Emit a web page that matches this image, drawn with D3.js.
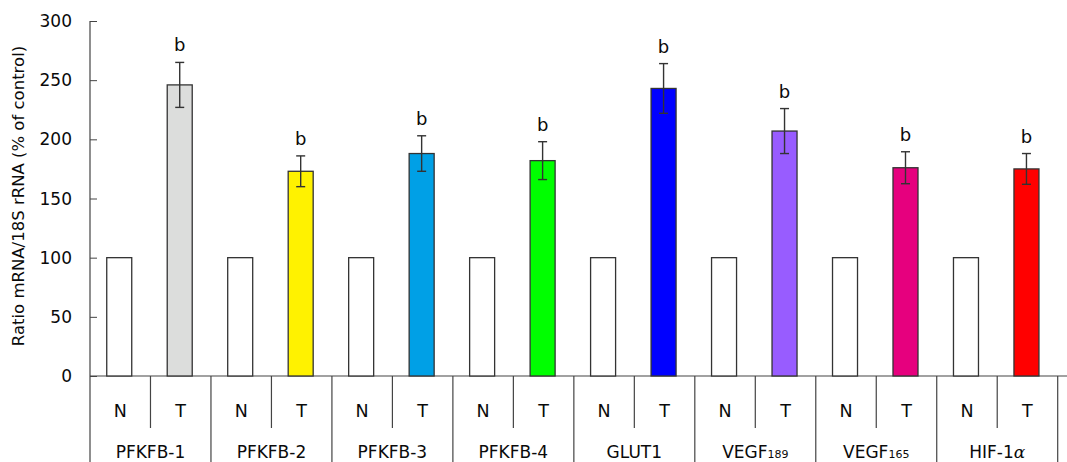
<!DOCTYPE html>
<html>
<head>
<meta charset="utf-8">
<script src="https://cdn.jsdelivr.net/npm/d3@7"></script>
<style>
  html, body { margin: 0; padding: 0; background: #fff; }
  svg { display: block; }
  text { font-family: "DejaVu Sans", sans-serif; fill: #0a0a0a; }
</style>
</head>
<body>
<svg id="chart" width="1067" height="462"></svg>
<script>
// ---- data ----
const categories = ["PFKFB-1", "PFKFB-2", "PFKFB-3", "PFKFB-4", "GLUT1", "VEGF189", "VEGF165", "HIF-1α"];
const groups = ["N", "T"];
const normalValues = [100, 100, 100, 100, 100, 100, 100, 100];
const tumorValues = [246, 173, 188, 182, 243, 207, 176, 175];
const tumorErrors = [19, 13, 15, 16, 21, 19, 13.5, 13];
const sigLabels = ["b", "b", "b", "b", "b", "b", "b", "b"];
const tumorColors = ["#dcdddc", "#fff200", "#00a0e6", "#00ff00", "#0000ff", "#985cff", "#e6007e", "#ff0000"];
const yTicks = [0, 50, 100, 150, 200, 250, 300];
const yTitle = "Ratio mRNA/18S rRNA (% of control)";

// ---- layout ----
const svg = d3.select("#chart");
const mLeft = 90, mRight = 1057.7, mTop = 21, base = 376, H = 462, W = 1067;
const barW = 25;

const y = d3.scaleLinear().domain([0, 300]).range([base, mTop]);
const x = d3.scaleBand().domain(categories).range([mLeft, mRight]).padding(0);
const xs = d3.scaleBand().domain(groups).range([0, x.bandwidth()]).padding(0);

// y axis ticks (inside)
const yAxis = d3.axisRight(y).tickValues(yTicks).tickSize(7).tickFormat("");
const ya = svg.append("g").attr("transform", `translate(${mLeft},0)`).call(yAxis);
ya.select(".domain").remove();
ya.selectAll(".tick line").attr("stroke", "#444").attr("stroke-width", 1);
svg.append("line").attr("x1", mLeft).attr("x2", mLeft).attr("y1", mTop).attr("y2", H)
  .attr("stroke", "#444").attr("stroke-width", 1.2);

// tick labels
svg.append("g").selectAll("text").data(yTicks).join("text")
  .attr("x", 72).attr("y", d => y(d)).attr("dy", "0.36em")
  .attr("text-anchor", "end").attr("font-size", 17).text(d => d);

// y title
svg.append("text")
  .attr("transform", `translate(24,196) rotate(-90)`)
  .attr("text-anchor", "middle").attr("font-size", 16.5).text(yTitle);

// baseline
svg.append("line").attr("x1", mLeft).attr("x2", W).attr("y1", base).attr("y2", base)
  .attr("stroke", "#444").attr("stroke-width", 1.2);

// group separators
const seps = categories.map(c => x(c) + x.bandwidth());
svg.append("g").selectAll("line").data(seps).join("line")
  .attr("x1", d => d).attr("x2", d => d).attr("y1", base).attr("y2", H)
  .attr("stroke", "#444").attr("stroke-width", 1.2);
// N/T separators
svg.append("g").selectAll("line").data(categories).join("line")
  .attr("x1", d => x(d) + xs("T")).attr("x2", d => x(d) + xs("T"))
  .attr("y1", base).attr("y2", 428)
  .attr("stroke", "#444").attr("stroke-width", 1.2);

// N/T labels
const nt = [];
categories.forEach(c => groups.forEach(g => nt.push({ c, g })));
svg.append("g").selectAll("text").data(nt).join("text")
  .attr("x", d => x(d.c) + xs(d.g) + xs.bandwidth() / 2)
  .attr("y", 417).attr("text-anchor", "middle").attr("font-size", 17.5)
  .text(d => d.g);

// category labels
const catText = svg.append("g").selectAll("text").data(categories).join("text")
  .attr("x", d => x(d) + x.bandwidth() / 2)
  .attr("y", 458).attr("text-anchor", "middle").attr("font-size", 17);
catText.each(function (d) {
  const t = d3.select(this);
  const m = d.match(/^(VEGF)(\d+)$/);
  if (m) {
    t.append("tspan").text(m[1]);
    t.append("tspan").attr("font-size", 11).text(m[2]);
  } else if (d.endsWith("α")) {
    t.append("tspan").text(d.slice(0, -1));
    t.append("tspan").attr("font-family", "DejaVu Serif, serif").attr("font-style", "italic").text("α");
  } else {
    t.text(d);
  }
});

const cx = (c, g) => x(c) + xs(g) + xs.bandwidth() / 2 - 1;

// N bars
svg.append("g").selectAll("rect").data(categories).join("rect")
  .attr("x", (d) => cx(d, "N") - barW / 2)
  .attr("y", (d, i) => y(normalValues[i]))
  .attr("width", barW)
  .attr("height", (d, i) => base - y(normalValues[i]))
  .attr("fill", "#fff").attr("stroke", "#333").attr("stroke-width", 1.3);

// T bars
svg.append("g").selectAll("rect").data(categories).join("rect")
  .attr("x", (d) => cx(d, "T") - barW / 2)
  .attr("y", (d, i) => y(tumorValues[i]))
  .attr("width", barW)
  .attr("height", (d, i) => base - y(tumorValues[i]))
  .attr("fill", (d, i) => tumorColors[i]).attr("stroke", "#333").attr("stroke-width", 1.3);

// error bars
const eb = svg.append("g").attr("stroke", "#333").attr("stroke-width", 1.4);
categories.forEach((c, i) => {
  const xc = cx(c, "T");
  const hi = y(tumorValues[i] + tumorErrors[i]);
  const lo = y(tumorValues[i] - tumorErrors[i]);
  eb.append("line").attr("x1", xc).attr("x2", xc).attr("y1", hi).attr("y2", lo);
  eb.append("line").attr("x1", xc - 4.5).attr("x2", xc + 4.5).attr("y1", hi).attr("y2", hi);
  eb.append("line").attr("x1", xc - 4.5).attr("x2", xc + 4.5).attr("y1", lo).attr("y2", lo);
});

// significance letters
svg.append("g").selectAll("text").data(categories).join("text")
  .attr("x", d => cx(d, "T"))
  .attr("y", (d, i) => y(tumorValues[i] + tumorErrors[i]) - 11)
  .attr("text-anchor", "middle").attr("font-size", 18)
  .text((d, i) => sigLabels[i]);
</script>
</body>
</html>
